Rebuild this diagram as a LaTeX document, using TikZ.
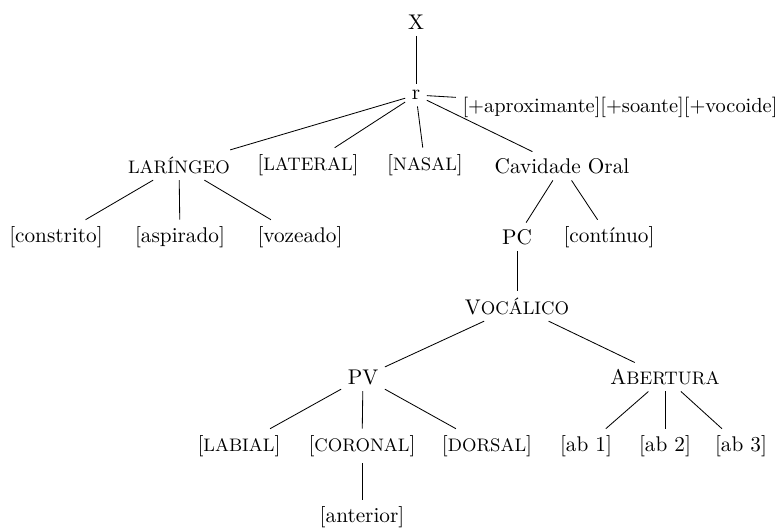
\documentclass[tikz,border=0pt]{standalone}
\usepackage{fontspec}
\newcommand\fsc[1]{{\fontsize{8.7}{10}\selectfont #1}}
\begin{document}
\begin{tikzpicture}[x=0.48pt,y=-0.48pt,
  tn/.style={inner sep=3pt, font=\fontsize{10.2}{12}\selectfont},
  br/.style={line width=0.4pt}]
\useasboundingbox (0,0) rectangle (779,529);
\node[tn] (X) at (416,22) {X};
\node[tn] (r) at (416,95) {r};
\node[tn, font=\fontsize{9.8}{12}\selectfont] (feat) at (620,107) {[+aproximante][+soante][+vocoide]};
\node[tn] (lar) at (179,165) {\fsc{LARÍNGEO}};
\node[tn] (lat) at (308,165) {[\fsc{LATERAL}]};
\node[tn] (nas) at (425,165) {[\fsc{NASAL}]};
\node[tn] (co) at (562,166) {Cavidade Oral};
\node[tn] (cons) at (56,237) {[constrito]};
\node[tn] (asp) at (180,237) {[aspirado]};
\node[tn] (voz) at (300,237) {[vozeado]};
\node[tn] (pc) at (517,237) {PC};
\node[tn] (cont) at (609,237) {[contínuo]};
\node[tn] (voc) at (517,306) {V\fsc{OCÁLICO}};
\node[tn] (pv) at (363,377) {PV};
\node[tn] (ab) at (665,377) {A\fsc{BERTURA}};
\node[tn] (lab) at (239,446) {[\fsc{LABIAL}]};
\node[tn] (cor) at (362,446) {[\fsc{CORONAL}]};
\node[tn] (dor) at (487,446) {[\fsc{DORSAL}]};
\node[tn] (ab1) at (586,446) {[ab 1]};
\node[tn] (ab2) at (665,446) {[ab 2]};
\node[tn] (ab3) at (741,446) {[ab 3]};
\node[tn] (ant) at (362,517) {[anterior]};
\draw[br] (X) -- (r);
\draw[br] (r) -- (feat);
\draw[br] (r) -- (lar);
\draw[br] (r) -- (lat);
\draw[br] (r) -- (nas);
\draw[br] (r) -- (co);
\draw[br] (lar) -- (cons);
\draw[br] (lar) -- (asp);
\draw[br] (lar) -- (voz);
\draw[br] (co) -- (pc);
\draw[br] (co) -- (cont);
\draw[br] (pc) -- (voc);
\draw[br] (voc) -- (pv);
\draw[br] (voc) -- (ab);
\draw[br] (pv) -- (lab);
\draw[br] (pv) -- (cor);
\draw[br] (pv) -- (dor);
\draw[br] (cor) -- (ant);
\draw[br] (ab) -- (ab1);
\draw[br] (ab) -- (ab2);
\draw[br] (ab) -- (ab3);
\end{tikzpicture}
\end{document}
